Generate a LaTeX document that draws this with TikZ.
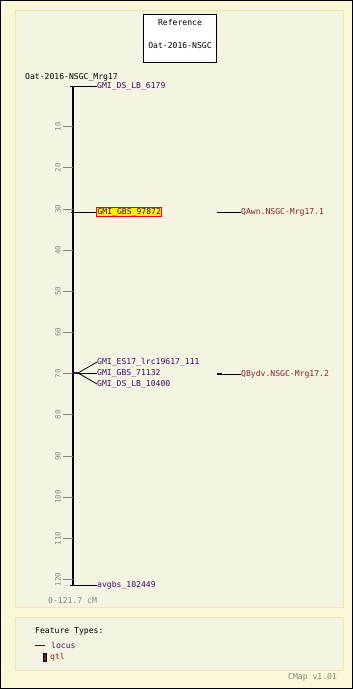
\documentclass[tikz,border=0pt]{standalone}
\usepackage{fontspec}
\usepackage{xcolor}
\newfontfamily\cmapfont{DejaVu Sans Mono}
\definecolor{cmapbg}{HTML}{FAF8D6}
\definecolor{panelbg}{HTML}{F5F4E2}
\definecolor{panelrule}{HTML}{EDE7B2}
\definecolor{locuscol}{HTML}{3E0A6E}
\definecolor{qtlcol}{HTML}{8A2222}
\definecolor{tickcol}{HTML}{858585}
\definecolor{hilite}{HTML}{FFF000}

\begin{document}
\begin{tikzpicture}[x=1pt,y=-1pt,
	every node/.style={font=\cmapfont\fontsize{8.1}{9}\selectfont, inner sep=0pt},
	locus/.style={text=locuscol, anchor=west},
	qtl/.style={text=qtlcol, anchor=west},
	ticklab/.style={text=tickcol, rotate=90, font=\cmapfont\fontsize{7.4}{8}\selectfont},
	feat/.style={line width=0.8pt, color=black}
	]
		\useasboundingbox (0,0) rectangle (353,689);
		% frame and panels
		\filldraw[fill=cmapbg, draw=black, line width=1pt] (0.5,0.5) rectangle (352.5,688.5);
		\filldraw[fill=panelbg, draw=panelrule, line width=1pt] (15.5,10.5) rectangle (343.5,607.5);
		\filldraw[fill=panelbg, draw=panelrule, line width=1pt] (15.5,617.5) rectangle (343.5,670.5);
		% reference box
		\filldraw[fill=white, draw=black, line width=0.8pt] (143.5,14.5) rectangle (216.5,62.5);
		\node (refhead) at (180,22) {Reference};
		\node (refname) at (180,46) {Oat-2016-NSGC};
		% map
		\node[anchor=west] (mapname) at (25,77) {Oat-2016-NSGC\_Mrg17};
		\coordinate (axtop) at (73,86);
		\coordinate (axbot) at (73,585);
		\draw[line width=2.6pt] (axtop) -- (axbot);
		\draw[line width=1pt] (70,86) -- (76,86);
		\draw[line width=1pt] (70,585) -- (76,585);
		\foreach \v in {10,20,...,120}{
			\draw[tickcol, line width=0.8pt] (63,85.5+4.117*\v) -- (73,85.5+4.117*\v);
			\node[ticklab] (tick\v) at (58,85.5+4.117*\v) {\v};
		}
		% loci
		\node[locus] (ds6179) at (97,86) {GMI\_DS\_LB\_6179};
		\draw[feat] (axtop) -- (ds6179.west);
		\coordinate (at30) at (73,212);
		\node[locus, fill=hilite, draw=red, line width=1pt, inner sep=1pt] (gbs97872) at (96,212) {GMI\_GBS\_97872};
		\draw[feat] (at30) -- (gbs97872.west);
		\draw[line width=1pt] (71,212) -- (75,212);
		\coordinate (at70) at (78,373);
		\draw[locuscol, line width=2.5pt] (72,373) -- (at70);
		\node[locus] (es17) at (97,362) {GMI\_ES17\_lrc19617\_111};
		\node[locus] (gbs71132) at (97,373) {GMI\_GBS\_71132};
		\node[locus] (ds10400) at (97,384) {GMI\_DS\_LB\_10400};
		\draw[feat] (at70) -- (es17.west);
		\draw[feat] (at70) -- (gbs71132.west);
		\draw[feat] (at70) -- (ds10400.west);
		\node[locus] (avgbs) at (97,585) {avgbs\_102449};
		\draw[feat] (axbot) -- (avgbs.west);
		% qtl
		\coordinate (qawnstart) at (217,212);
		\node[qtl] (qawn) at (241,212) {QAwn.NSGC-Mrg17.1};
		\draw[feat] (qawnstart) -- (qawn.west);
		\coordinate (qbydvstart) at (217,374);
		\node[qtl] (qbydv) at (241,374) {QBydv.NSGC-Mrg17.2};
		\draw[line width=2pt] (qbydvstart) -- (222,374);
		\draw[feat] (qbydvstart) -- (qbydv.west);
		\node[anchor=west, text=tickcol] (span) at (48,601) {0-121.7 cM};
		% legend
		\node[anchor=west] (legend) at (35,631) {Feature Types:};
		\coordinate (locusleg) at (35,645);
		\node[locus] (locustxt) at (51,645) {locus};
		\draw[locuscol, line width=0.8pt] (locusleg) -- (45,645);
		\filldraw[fill=qtlcol!80!black, draw=black, line width=0.5pt] (43,653) rectangle (46,661);
		\node[qtl] (qtltxt) at (50,657) {qtl};
		\node[anchor=west, text=tickcol] (version) at (288,677) {CMap v1.01};
\end{tikzpicture}
\end{document}
